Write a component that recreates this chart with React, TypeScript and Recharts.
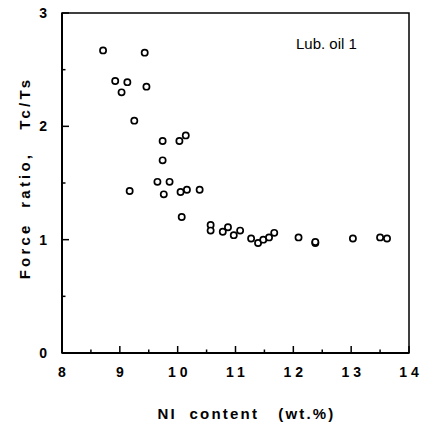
import React from 'react'
import {
  ScatterChart, Scatter, XAxis, YAxis, ReferenceArea, Label
} from 'recharts'

// Ni content (wt.%) and force ratio Tc/Ts
const NI_CONTENT = [
  8.71, 9.43, 8.92, 9.13, 9.03, 9.46, 9.25,
  9.74, 10.03, 10.14, 9.74, 9.65, 9.86, 9.17, 9.76, 10.05, 10.16, 10.38,
  10.07, 10.57, 10.57, 10.78, 10.87, 10.97, 11.08,
  11.27, 11.39, 11.48, 11.58, 11.67, 12.09, 12.38, 12.38, 13.03, 13.5, 13.62,
]
const FORCE_RATIO = [
  2.67, 2.65, 2.4, 2.39, 2.3, 2.35, 2.05,
  1.87, 1.87, 1.92, 1.7, 1.51, 1.51, 1.43, 1.4, 1.42, 1.44, 1.44,
  1.2, 1.13, 1.08, 1.07, 1.11, 1.04, 1.08,
  1.01, 0.97, 1.0, 1.02, 1.06, 1.02, 0.97, 0.98, 1.01, 1.02, 1.01,
]
const X_TICKS = [8, 8.5, 9, 9.5, 10, 10.5, 11, 11.5, 12, 12.5, 13, 13.5, 14]
const Y_TICKS = [0, 0.5, 1, 1.5, 2, 2.5, 3]

const FONT = '"Liberation Sans", Arial, Helvetica, sans-serif'

const points = NI_CONTENT.map((ni, i) => ({ ni, ratio: FORCE_RATIO[i] }))

const isMajor = (v: number) => Number.isInteger(v)

function XTick({ x, y, payload }: any) {
  const v = payload.value
  const major = isMajor(v)
  return (
    <g>
      <line x1={x} x2={x} y1={y} y2={y - (major ? 7 : 3.5)} stroke="#000" strokeWidth={1.5} />
      {major && (
        <text x={x + 2} y={y + 24} textAnchor="middle" fontSize={14} fontWeight="bold"
          fontFamily={FONT} letterSpacing={4} fill="#000">
          {String(v)}
        </text>
      )}
    </g>
  )
}

function YTick({ x, y, payload }: any) {
  const v = payload.value
  const major = isMajor(v)
  return (
    <g>
      <line x1={x} x2={x + (major ? 7 : 3.5)} y1={y} y2={y} stroke="#000" strokeWidth={1.5} />
      {major && (
        <text x={x - 15} y={y + 5} textAnchor="end" fontSize={14} fontWeight="bold"
          fontFamily={FONT} fill="#000">
          {String(v)}
        </text>
      )}
    </g>
  )
}

const Dot = ({ cx, cy }: any) => (
  <circle cx={cx} cy={cy} r={3.1} fill="#fff" stroke="#000" strokeWidth={1.7} />
)

export default function App() {
  return (
    <div style={{ position: 'absolute', left: 0, top: 0, width: 422, height: 423, background: '#fff' }}>
      <ScatterChart width={422} height={423} margin={{ top: 13, right: 13, bottom: 20, left: 22 }}>
        <XAxis
          type="number"
          dataKey="ni"
          domain={[8, 14]}
          ticks={X_TICKS}
          interval={0}
          height={50}
          tickSize={0}
          tickMargin={0}
          tickLine={false}
          axisLine={{ stroke: '#000', strokeWidth: 2 }}
          tick={<XTick />}
        >
          <Label
            content={({ viewBox }: any) => (
              <text x={viewBox.x + viewBox.width / 2 + 11} y={viewBox.y + 66} textAnchor="middle"
                fontSize={15} fontWeight="bold" fontFamily={FONT} letterSpacing={2.2} fill="#000"
                style={{ whiteSpace: 'pre' }}>
                {'NI  content   (wt.%)'}
              </text>
            )}
          />
        </XAxis>
        <YAxis
          type="number"
          dataKey="ratio"
          domain={[0, 3]}
          ticks={Y_TICKS}
          interval={0}
          width={40}
          tickSize={0}
          tickMargin={0}
          tickLine={false}
          axisLine={{ stroke: '#000', strokeWidth: 2 }}
          tick={<YTick />}
        >
          <Label
            content={({ viewBox }: any) => {
              const cx = viewBox.x + 2
              const cy = viewBox.y + viewBox.height / 2 - 5
              return (
                <text x={cx} y={cy} textAnchor="middle" dominantBaseline="central"
                  transform={`rotate(-90 ${cx} ${cy})`}
                  fontSize={15} fontWeight="bold" fontFamily={FONT} letterSpacing={3.2} fill="#000"
                  style={{ whiteSpace: 'pre' }}>
                  {'Force  ratio,   Tc/Ts'}
                </text>
              )
            }}
          />
        </YAxis>
        <ReferenceArea x1={8} x2={14} y1={0} y2={3} fill="none" stroke="#000" strokeWidth={1.5} />
        <Scatter data={points} shape={<Dot />} isAnimationActive={false} />
      </ScatterChart>
      <div style={{
        position: 'absolute', left: 296, top: 36, fontSize: 15, lineHeight: '16px',
        fontFamily: FONT, color: '#000', whiteSpace: 'nowrap'
      }}>
        Lub. oil 1
      </div>
    </div>
  )
}
